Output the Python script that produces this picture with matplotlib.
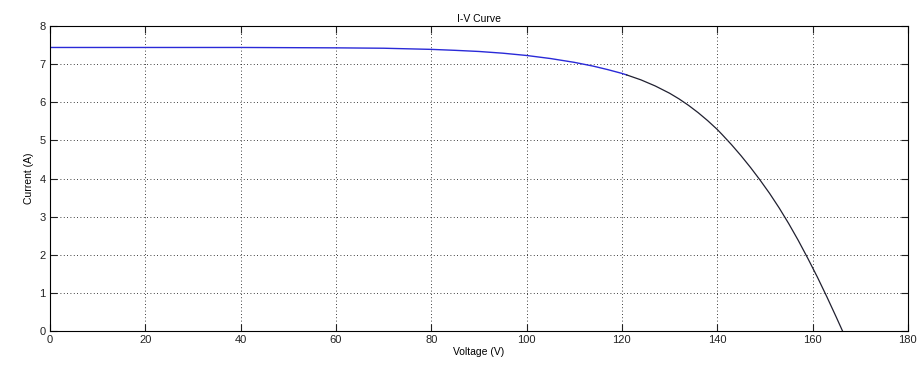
import numpy as np
import matplotlib
matplotlib.use('Agg')
from matplotlib import pyplot as plt

# I-V curve
volts = [0, 20, 40, 60, 70, 80, 85, 90, 95, 100, 105, 110, 114, 117, 120, 121, 124, 127,
         130, 132, 134, 136, 138, 140, 141, 143, 145, 147, 149, 151, 153, 155, 157, 159,
         161, 163, 165, 166.3]
amps = [7.44, 7.44, 7.44, 7.43, 7.42, 7.39, 7.365, 7.335, 7.29, 7.23, 7.15, 7.05, 6.95, 6.86,
        6.76, 6.72, 6.59, 6.43, 6.24, 6.09, 5.92, 5.73, 5.52, 5.29, 5.16, 4.89, 4.60, 4.29,
        3.96, 3.61, 3.23, 2.82, 2.38, 1.91, 1.42, 0.90, 0.36, 0.0]
split_v = 121  # curve drawn blue before this, black after

xticks = [0, 20, 40, 60, 80, 100, 120, 140, 160, 180]
yticks = [0, 1, 2, 3, 4, 5, 6, 7, 8]

plt.rcParams['font.family'] = ['Liberation Sans', 'DejaVu Sans']

fig = plt.figure(figsize=(9.17, 3.68), dpi=100)
ax = fig.add_axes([0.0545, 0.1005, 0.9355, 0.8285])

v = np.array(volts)
i = np.array(amps)
k = np.searchsorted(v, split_v)
ax.plot(v[:k + 1], i[:k + 1], color='#2a2ad8', lw=1.0, solid_joinstyle='round')
ax.plot(v[k:], i[k:], color='#202030', lw=0.9, solid_joinstyle='round')

ax.set_xlim(0, 180)
ax.set_ylim(0, 8)
ax.set_xticks(xticks)
ax.set_yticks(yticks)
ax.grid(True, color='black', linestyle=(0, (1, 3)), linewidth=0.6)
ax.tick_params(direction='in', top=True, right=True, length=5, width=0.8,
               labelsize=8, pad=3, colors='#222222')
for s in ax.spines.values():
    s.set_linewidth(0.8)

ax.set_title('I-V Curve', fontsize=7.5, pad=3)
ax.set_xlabel('Voltage (V)', fontsize=7.5, labelpad=1)
ax.set_ylabel('Current (A)', fontsize=7.5, labelpad=4)

fig.savefig('out.png', dpi=100)
